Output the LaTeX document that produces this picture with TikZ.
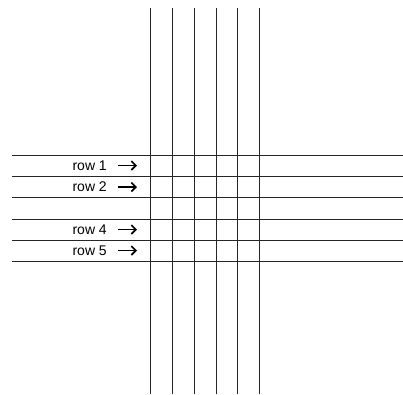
\documentclass[tikz,border=0pt]{standalone}
\usepackage{fontspec}
\setmainfont{Liberation Sans}
\usetikzlibrary{arrows.meta, positioning}

\begin{document}
\begin{tikzpicture}[x=1pt, y=-1pt, font=\fontsize{14}{16}\selectfont,
    gridline/.style={draw=black!85, line width=0.9pt},
    rowlabel/.style={anchor=east, inner sep=0pt},
    rowarrow/.style={-{Straight Barb[length=4.5pt, width=9pt, line width=1.6pt]}, line width=1.6pt}]
  \useasboundingbox (0,0) rectangle (403,394);
  % vertical lines
  \foreach \x in {150,172,194,216,237,259}
    \draw[gridline] (\x,8) -- (\x,394);
  % horizontal lines
  \foreach \y in {155,176,197,219,240,261}
    \draw[gridline] (12,\y) -- (403,\y);
  % row labels with arrows
  \foreach \n/\y in {1/165.5,2/187,4/229.5,5/250.5} {
    \node[rowlabel] (row\n) at (107,\y) {row \n};
    \coordinate[right=11pt of row\n.east] (tail\n);
    \coordinate[right=30pt of row\n.east] (tip\n);
    \draw[rowarrow] (tail\n) -- (tip\n);
  }
\end{tikzpicture}
\end{document}
